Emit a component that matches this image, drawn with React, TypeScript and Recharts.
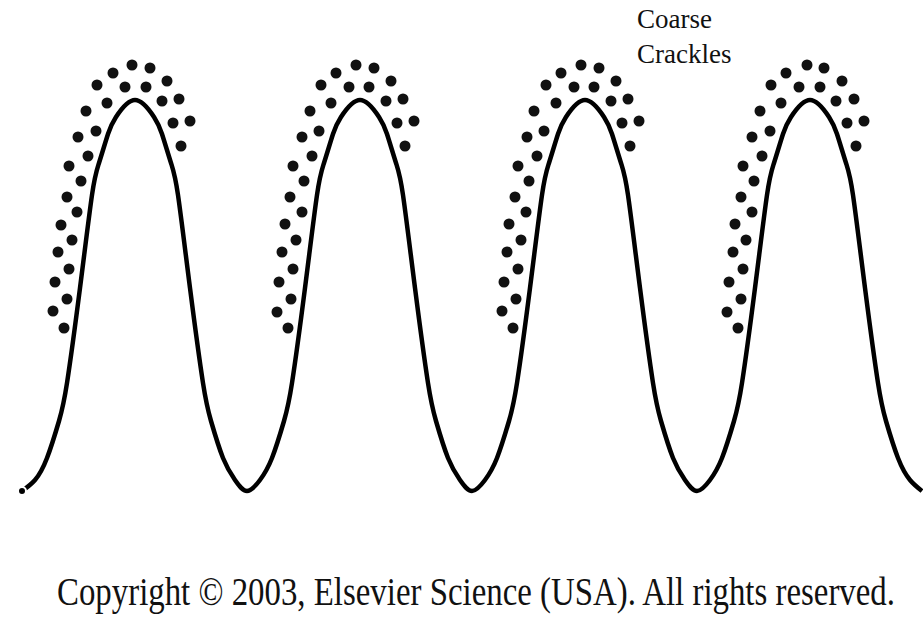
import { ComposedChart, Line, Scatter, XAxis, YAxis } from 'recharts'

// waveform (x across, y down from the top)
const waveT = [
  22, 35, 47, 59, 67, 80, 92, 99, 108, 116, 135, 154, 162, 171, 178, 190, 203, 211, 223, 235,
  247, 260, 272, 284, 292, 305, 317, 324, 333, 341, 360, 379, 387, 396, 403, 415, 428, 436, 448, 460,
  472, 485, 497, 509, 517, 530, 542, 549, 558, 566, 585, 604, 612, 621, 628, 640, 653, 661, 673, 685,
  697, 710, 722, 734, 742, 755, 767, 774, 783, 791, 810, 829, 837, 846, 853, 865, 878, 886, 898, 910,
  922,
]
const waveV = [
  491, 480, 458, 421, 383, 288, 195, 163, 134, 117, 100, 117, 134, 163, 195, 288, 383, 421, 458, 480,
  491, 480, 458, 421, 383, 288, 195, 163, 134, 117, 100, 117, 134, 163, 195, 288, 383, 421, 458, 480,
  491, 480, 458, 421, 383, 288, 195, 163, 134, 117, 100, 117, 134, 163, 195, 288, 383, 421, 458, 480,
  491, 480, 458, 421, 383, 288, 195, 163, 134, 117, 100, 117, 134, 163, 195, 288, 383, 421, 458, 480,
  491,
]

// crackle dots, one cluster per inspiration
const crackle1T = [132, 150, 113, 167, 97, 125, 146, 107, 162, 179, 86, 173, 190, 96, 78, 181, 88, 69, 81, 67, 77, 61, 72, 58, 69, 55, 67, 53, 64]
const crackle1V = [65, 68, 73, 81, 85, 87, 87, 103, 101, 99, 111, 123, 121, 131, 137, 146, 156, 166, 181, 197, 212, 225, 240, 252, 269, 282, 299, 311, 328]
const crackle2T = [356, 374, 336, 391, 321, 349, 369, 331, 386, 403, 310, 397, 414, 319, 302, 405, 312, 293, 304, 290, 302, 285, 296, 282, 293, 279, 291, 277, 288]
const crackle2V = [65, 68, 73, 81, 85, 87, 87, 103, 101, 99, 111, 123, 121, 131, 137, 146, 156, 166, 181, 197, 212, 224, 240, 252, 269, 282, 299, 312, 328]
const crackle3T = [581, 599, 561, 616, 546, 574, 594, 556, 611, 628, 534, 622, 639, 544, 527, 630, 537, 518, 529, 515, 526, 509, 521, 507, 518, 504, 516, 502, 513]
const crackle3V = [65, 68, 73, 81, 85, 87, 87, 103, 101, 99, 111, 123, 121, 131, 137, 146, 156, 166, 181, 197, 212, 224, 240, 252, 269, 282, 299, 311, 328]
const crackle4T = [807, 824, 786, 842, 771, 799, 820, 781, 836, 854, 760, 847, 864, 770, 752, 856, 762, 743, 754, 741, 752, 735, 746, 733, 743, 729, 741, 727, 738]
const crackle4V = [65, 68, 73, 81, 85, 87, 87, 103, 101, 99, 111, 123, 121, 131, 137, 146, 156, 166, 181, 197, 212, 224, 240, 252, 269, 282, 299, 312, 328]

const labelLines = ['Coarse', 'Crackles']
const copyright = 'Copyright © 2003, Elsevier Science (USA). All rights reserved.'

const wave = waveT.map((t, i) => ({ t, v: waveV[i] }))
const crackles = [
  [crackle1T, crackle1V],
  [crackle2T, crackle2V],
  [crackle3T, crackle3V],
  [crackle4T, crackle4V],
].flatMap(([ts, vs]) => ts.map((t, i) => ({ t, v: vs[i] })))

const serif = { fontFamily: '"Liberation Serif", "Times New Roman", serif' }

const Dot = (props: any) => <circle cx={props.cx} cy={props.cy} r={5.5} fill="#111" />

export default function App() {
  return (
    <div style={{ position: 'absolute', left: 0, top: 0, width: 923, height: 617, background: '#fff' }}>
      <ComposedChart width={923} height={617} margin={{ top: 0, right: 0, bottom: 0, left: 0 }}>
        <XAxis type="number" dataKey="t" domain={[0, 923]} hide allowDataOverflow />
        <YAxis type="number" dataKey="v" domain={[0, 617]} reversed hide allowDataOverflow />
        <Line data={wave} dataKey="v" type="natural" stroke="#000" strokeWidth={4.5} dot={false} isAnimationActive={false} />
        <Scatter data={crackles} dataKey="v" shape={Dot} isAnimationActive={false} />
        <text x={637} y={28} fontSize={27} fill="#111" style={serif}>{labelLines[0]}</text>
        <text x={637} y={63} fontSize={27} fill="#111" style={serif}>{labelLines[1]}</text>
        <g transform="translate(57,605) scale(1,1.3)">
          <text x={0} y={0} fontSize={31} fill="#111" style={serif} textLength={838} lengthAdjust="spacingAndGlyphs">{copyright}</text>
        </g>
      </ComposedChart>
    </div>
  )
}
